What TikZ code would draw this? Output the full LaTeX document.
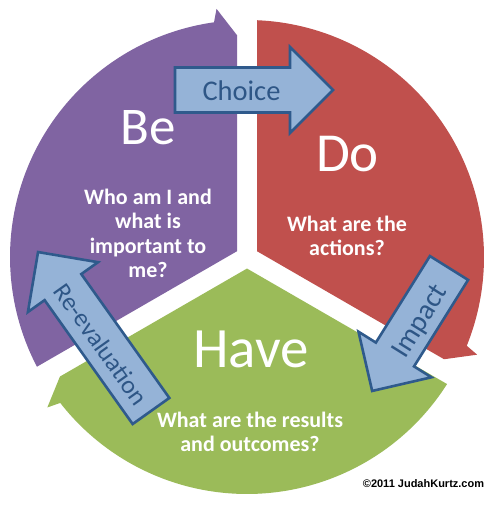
\documentclass[tikz,border=0pt]{standalone}
\usepackage{fontspec}
\setmainfont{Carlito}
\newfontfamily\creditfont{Liberation Sans}
\definecolor{cPurple}{HTML}{8064A2}
\definecolor{cRed}{HTML}{C0504D}
\definecolor{cGreen}{HTML}{9BBB59}
\definecolor{cSky}{HTML}{95B3D7}
\definecolor{cDeep}{HTML}{2F5A8C}
\definecolor{cInk}{HTML}{2E5686}
\tikzset{
  seg/.style={fill=#1,draw=none},
  bigword/.style={font=\fontsize{#1}{#1}\selectfont,text=white,inner sep=0pt,anchor=base},
  bigword/.default=54,
  % anchor=base of a multi-line node sits on its last line
  ask/.style={font=\bfseries\fontsize{22}{24.6}\selectfont,text=white,align=center,inner sep=0pt,anchor=base},
  barrow/.style={draw=cDeep,fill=cSky,line width=2.6pt,line join=miter},
  blab/.style={font=\fontsize{28.5}{28.5}\selectfont,text=cInk,inner sep=0pt},
}
% block arrow: tail point, direction, length
\newcommand{\blockarrow}[3]{%
  \draw[barrow,shift={(#1)},rotate=#2] (0,-22.5) -- ({#3-43},-22.5) -- ({#3-43},-43) -- (#3,0)
    -- ({#3-43},43) -- ({#3-43},22.5) -- (0,22.5) -- cycle;}

\begin{document}
\begin{tikzpicture}[x=1pt,y=1pt]
  \useasboundingbox (0,0) rectangle (496,522);
  \fill[white] (0,0) rectangle (496,522);
  % three pie segments with arrowheads
  \begin{scope}[shift={(247,265)}]
    \fill[seg=cPurple] (150:11.55) -- (207.58:237) arc[start angle=207.58,end angle=98,radius=237]
      -- (97:250) -- (92.58:222) -- cycle;
    \fill[seg=cRed] (30:11.55) -- (87.58:237) arc[start angle=87.58,end angle=-22,radius=237]
      -- (-23:250) -- (-27.42:222) -- cycle;
    \fill[seg=cGreen] (270:11.55) -- (-32.42:237) arc[start angle=-32.42,end angle=-142,radius=237]
      -- (-143:250) -- (-147.42:222) -- cycle;
  \end{scope}
  % segment texts
  \node[bigword=53] (be) at (148.5,377) {Be};
  \node[bigword=55] (do) at (347.5,350) {Do};
  \node[bigword=57] (have) at (251,154) {Have};
  \node[ask] (beq) at (148,244) {Who am I and\\what is\\important to\\me?};
  \node[ask] (doq) at (347,266) {What are the\\actions?};
  \node[ask] (haveq) at (250,70) {What are the results\\and outcomes?};
  % blue arrows between segments
  \coordinate (choice-tail) at (175,432);
  \coordinate (impact-tail) at (449,254);
  \coordinate (reeval-tail) at (151,111);
  \blockarrow{choice-tail}{0}{158}
  \blockarrow{impact-tail}{238}{145}
  \blockarrow{reeval-tail}{125.4}{195}
  \node[blab] (choice) at (241.5,431) {Choice};
  \node[blab,rotate=58] (impact) at (421,200) {Impact};
  \node[blab,rotate=-54.6,font=\fontsize{25.5}{25.5}\selectfont] (reeval) at (101,178) {Re-evaluation};
  \node[font=\creditfont\bfseries\fontsize{11}{11}\selectfont,anchor=base,inner sep=0pt] (credit) at (423.5,34) {©2011 JudahKurtz.com};
\end{tikzpicture}
\end{document}
